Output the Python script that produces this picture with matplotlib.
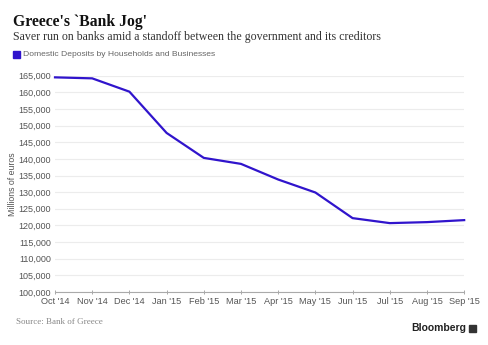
import matplotlib
matplotlib.use("Agg")
import matplotlib.pyplot as plt
from matplotlib.ticker import FuncFormatter
from matplotlib.patches import Rectangle

months = ["Oct '14", "Nov '14", "Dec '14", "Jan '15", "Feb '15", "Mar '15",
          "Apr '15", "May '15", "Jun '15", "Jul '15", "Aug '15", "Sep '15"]
deposits = [164500, 164200, 160200, 147800, 140300, 138500,
            133800, 129900, 122200, 120700, 121000, 121600]
yticks = list(range(100000, 165001, 5000))

LINE = "#3014cc"
GRID = "#ececec"
TXT = "#555555"

fig = plt.figure(figsize=(4.88, 3.45), dpi=100)
ax = fig.add_axes([0.1127, 0.1536, 0.8385, 0.627])

x = list(range(len(months)))
ax.plot(x, deposits, color=LINE, lw=1.6, clip_on=False, zorder=3)
ax.set_xlim(0, len(months) - 1)
ax.set_ylim(100000, 165000)
ax.set_yticks(yticks)
ax.yaxis.set_major_formatter(FuncFormatter(lambda v, p: f"{int(v):,}"))
ax.set_xticks(x)
ax.set_xticklabels(months)
ax.grid(axis="y", color=GRID, lw=0.8)
ax.set_axisbelow(True)
for s in ["top", "right", "left"]:
    ax.spines[s].set_visible(False)
ax.spines["bottom"].set_color("#aaaaaa")
ax.spines["bottom"].set_linewidth(0.8)
ax.tick_params(axis="y", length=0, pad=3, labelsize=6.5, labelcolor=TXT)
ax.tick_params(axis="x", direction="inout", length=3, width=0.6, color="#999999",
               pad=2, labelsize=6.6, labelcolor=TXT)
for lab in ax.get_xticklabels() + ax.get_yticklabels():
    lab.set_family("Liberation Sans")
ax.set_ylabel("Millions of euros", fontsize=6.3, color=TXT, family="Liberation Sans")
ax.yaxis.set_label_coords(-0.093, 0.5)

fig.text(13/488, 1 - 22/345, "Greece's `Bank Jog'", fontsize=11.3, fontweight="bold",
         family="Liberation Serif", color="#111111", va="center", ha="left")
fig.text(13/488, 1 - 37/345, "Saver run on banks amid a standoff between the government and its creditors",
         fontsize=8.6, family="Liberation Serif", color="#333333", va="center", ha="left")
fig.patches.append(Rectangle((13/488, 1 - 58/345), 7/488, 7/345, transform=fig.transFigure,
                             color=LINE, figure=fig))
fig.text(23/488, 1 - 54.5/345, "Domestic Deposits by Households and Businesses",
         fontsize=6.1, family="Liberation Sans", color="#666666", va="center", ha="left")
fig.text(16/488, 1 - 322/345, "Source: Bank of Greece", fontsize=6.5,
         family="Liberation Serif", color="#888888", va="center", ha="left")
fig.text(466/488, 1 - 328/345, "Bloomberg", fontsize=7.5, fontweight="bold",
         family="Liberation Sans", color="#222222", va="center", ha="right")
fig.patches.append(Rectangle((469/488, 1 - 332/345), 7/488, 7/345, transform=fig.transFigure,
                             color="#333333", figure=fig))

fig.savefig("out.png", dpi=100)
